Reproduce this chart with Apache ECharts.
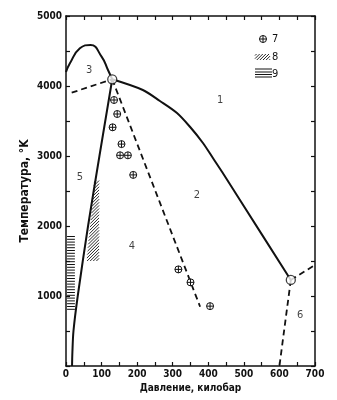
<!DOCTYPE html>
<html>
<head>
<meta charset="utf-8">
<script src="https://cdn.jsdelivr.net/npm/echarts@6/dist/echarts.min.js"></script>
<style>
  html, body { margin: 0; padding: 0; background: #fff; }
  #chart { width: 337px; height: 400px; }
</style>
</head>
<body>
<div id="chart"></div>
<script>
const FONT = "'DejaVu Sans Condensed', 'Liberation Sans Narrow', 'DejaVu Sans', sans-serif";

// фазовая диаграмма углерода: [давление, кбар; температура, K]
const graphiteMelt = [[0, 4200], [11, 4324], [39, 4538], [69, 4586], [100, 4419], [118, 4229], [130, 4096]];
const graphiteMeltExt = [[16, 3905], [130, 4096]];
const diamondMelt = [[130, 4096], [216, 3943], [264, 3786], [312, 3614], [349, 3414], [385, 3186], [413, 2971], [439, 2771], [489, 2371], [632, 1229]];
const graphiteDiamond = [[130, 4096], [94, 3000], [62, 2000], [33, 1000], [21, 500], [18, 200], [17, 0]];
const directLimit = [[130, 4096], [377, 847]];
const metalUp = [[632, 1229], [700, 1443]];
const metalDown = [[632, 1229], [600, 0]];
const triplePoints = [[130, 4096], [632, 1229]];
const expPoints = [[135, 3800], [144, 3600], [131, 3410], [156, 3170], [152, 3010], [174, 3010], [189, 2730], [316, 1380], [350, 1195], [405, 855]];
const zone8 = [[80, 2650], [93, 2650], [93, 1500], [58, 1500]];
const zone9 = [[3, 1870], [25, 1870], [25, 770], [3, 770]];
const regionLabels = [[433, 3800, '1'], [368, 2440, '2'], [65, 4230, '3'], [185, 1714, '4'], [39, 2700, '5'], [658, 729, '6']];
const xLabels = [0, 100, 200, 300, 400, 500, 600, 700];
const yLabels = [1000, 2000, 3000, 4000, 5000];

// штриховка выпуклого многоугольника (в пикселях)
function hatch(poly, nx, ny, step) {
  const len = Math.hypot(nx, ny); nx /= len; ny /= len;
  const proj = poly.map(p => p[0] * nx + p[1] * ny);
  const lo = Math.min(...proj), hi = Math.max(...proj);
  const segs = [];
  for (let c = lo + step / 2; c < hi; c += step) {
    const pts = [];
    for (let i = 0; i < poly.length; i++) {
      const a = poly[i], b = poly[(i + 1) % poly.length];
      const da = proj[i] - c, db = proj[(i + 1) % poly.length] - c;
      if ((da <= 0 && db > 0) || (da > 0 && db <= 0)) {
        const t = da / (da - db);
        pts.push([a[0] + t * (b[0] - a[0]), a[1] + t * (b[1] - a[1])]);
      }
    }
    if (pts.length >= 2) segs.push([pts[0], pts[1]]);
  }
  return segs;
}

function hatchSeries(poly, nx, ny, step, width) {
  return {
    type: 'custom', data: [[0, 0]], silent: true, z: 3,
    renderItem: (params, api) => {
      const px = poly.map(p => api.coord(p));
      return {
        type: 'group',
        children: hatch(px, nx, ny, step).map(s => ({
          type: 'line',
          shape: { x1: s[0][0], y1: s[0][1], x2: s[1][0], y2: s[1][1] },
          style: { stroke: '#111', lineWidth: width }
        }))
      };
    }
  };
}

function cross(cx, cy, r) {
  return [
    { type: 'circle', shape: { cx, cy, r }, style: { fill: '#fff', stroke: '#111', lineWidth: 1 } },
    { type: 'line', shape: { x1: cx - r, y1: cy, x2: cx + r, y2: cy }, style: { stroke: '#111', lineWidth: 1 } },
    { type: 'line', shape: { x1: cx, y1: cy - r, x2: cx, y2: cy + r }, style: { stroke: '#111', lineWidth: 1 } }
  ];
}

const solid = { color: '#111', width: 2 };
const dashed = { color: '#111', width: 1.8, type: [6, 4] };

function line(data, style, smooth) {
  return { type: 'line', data, symbol: 'none', smooth: smooth || false, lineStyle: style, silent: true, z: 4 };
}

function tickAxis(position, max, interval, showLine) {
  return {
    type: 'value', position, min: 0, max, interval,
    axisLine: { show: showLine, onZero: false, lineStyle: { color: '#111', width: 1.5 } },
    axisTick: { show: true, inside: true, length: 4, lineStyle: { color: '#111', width: 1.2 } },
    axisLabel: { show: false },
    splitLine: { show: false }
  };
}

const chart = echarts.init(document.getElementById('chart'));

// легенда
const legendG = [
  ...cross(263, 39, 3.5),
  ...hatch([[255, 54], [270, 54], [270, 60], [255, 60]], 1, 1, 2.2).map(s => ({
    type: 'line', shape: { x1: s[0][0], y1: s[0][1], x2: s[1][0], y2: s[1][1] }, style: { stroke: '#111', lineWidth: 0.9 }
  })),
  ...[69, 72, 74.5, 77].map(y => ({
    type: 'line', shape: { x1: 255, y1: y, x2: 272, y2: y }, style: { stroke: '#111', lineWidth: 1 }
  })),
  ...['7', '8', '9'].map((t, i) => ({
    type: 'text', x: 272, y: [39, 57, 74][i],
    style: { text: t, font: '11px ' + FONT, fill: '#111', verticalAlign: 'middle' }
  }))
];

const xMain = {
  type: 'value', position: 'bottom', min: 0, max: 700, interval: 50,
  axisLine: { onZero: false, lineStyle: { color: '#111', width: 1.5 } },
  axisTick: { show: false },
  splitLine: { show: false },
  name: 'Давление, килобар', nameLocation: 'middle', nameGap: 17, nameMoveOverlap: false,
  nameTextStyle: { fontFamily: FONT, fontSize: 10, fontWeight: 'bold', color: '#111' },
  axisLabel: {
    margin: 3, fontFamily: FONT, fontSize: 10, fontWeight: 'bold', color: '#111',
    formatter: v => xLabels.includes(v) ? String(v) : ''
  }
};
const yMain = {
  type: 'value', position: 'left', min: 0, max: 5000, interval: 500,
  axisLine: { onZero: false, lineStyle: { color: '#111', width: 1.5 } },
  axisTick: { show: false },
  splitLine: { show: false },
  name: 'Температура, °K', nameLocation: 'middle', nameGap: 35, nameMoveOverlap: false,
  nameTextStyle: { fontFamily: FONT, fontSize: 12, fontWeight: 'bold', color: '#111' },
  axisLabel: {
    margin: 4, fontFamily: FONT, fontSize: 10, fontWeight: 'bold', color: '#111',
    formatter: v => yLabels.includes(v) ? String(v) : ''
  }
};

chart.setOption({
  animation: false,
  grid: { left: 66, right: 22, top: 16, bottom: 34 },
  xAxis: [xMain, tickAxis('top', 700, 50, true), tickAxis('bottom', 700, 50, false)],
  yAxis: [yMain, tickAxis('right', 5000, 500, true), tickAxis('left', 5000, 500, false)],
  graphic: legendG,
  series: [
    hatchSeries(zone8, 1, 1, 2.2, 0.9),
    hatchSeries(zone9, 0, 1, 2.8, 1),
    line(graphiteMelt, solid, true),
    line(graphiteMeltExt, dashed),
    line(diamondMelt, solid, 0.3),
    line(graphiteDiamond, solid, 0.3),
    line(directLimit, dashed),
    line(metalUp, dashed),
    line(metalDown, dashed),
    {
      type: 'custom', data: expPoints, silent: true, z: 5,
      renderItem: (params, api) => {
        const p = api.coord([api.value(0), api.value(1)]);
        return { type: 'group', children: cross(p[0], p[1], 3.5) };
      }
    },
    {
      type: 'scatter', data: triplePoints, symbol: 'circle', symbolSize: 9, silent: true, z: 6,
      itemStyle: { color: '#fff', borderColor: '#111', borderWidth: 1.3 }
    },
    {
      type: 'scatter', data: regionLabels, symbolSize: 0, silent: true, z: 6,
      label: {
        show: true, position: 'inside', formatter: p => p.value[2],
        fontFamily: FONT, fontSize: 11, color: '#111'
      }
    }
  ]
});
</script>
</body>
</html>
